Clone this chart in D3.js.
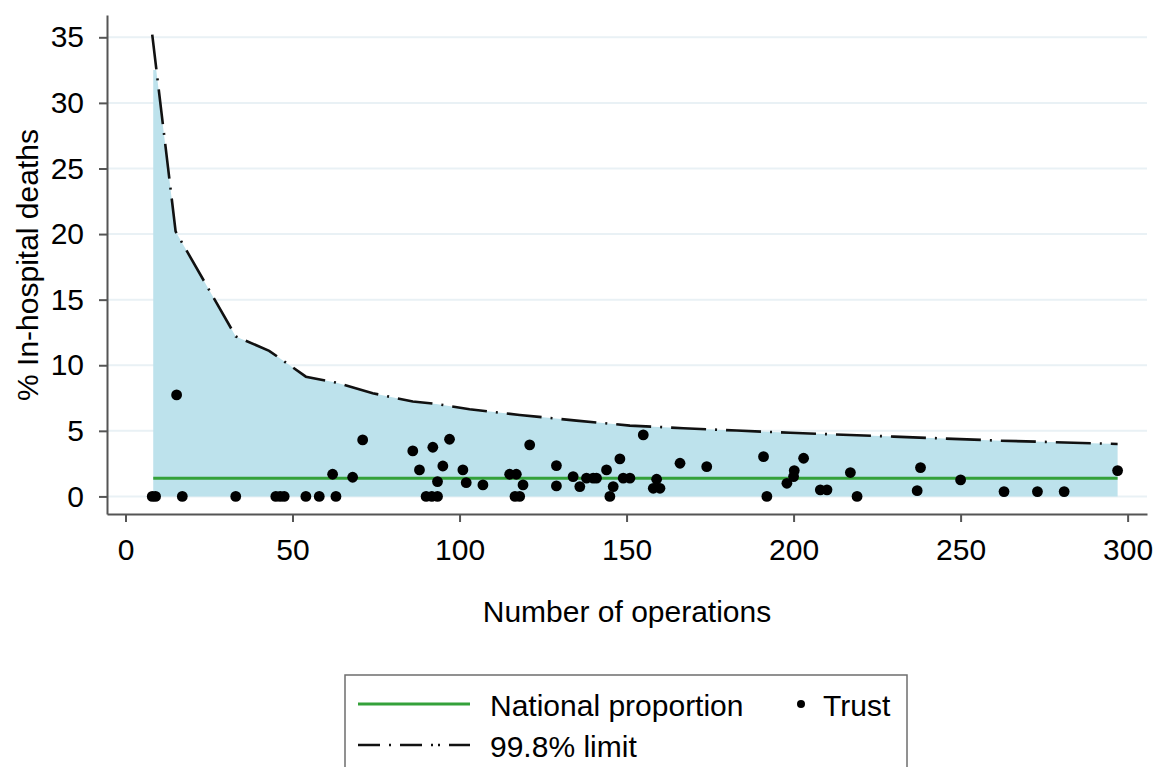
<!DOCTYPE html>
<html>
<head>
<meta charset="utf-8">
<script src="https://cdn.jsdelivr.net/npm/d3@7"></script>
<style>
  html, body { margin: 0; padding: 0; background: #fff; }
  svg { display: block; font-family: "Liberation Sans", Arial, sans-serif; }
</style>
</head>
<body>
<svg id="chart" width="1154" height="767"></svg>
<script>
// ---- Data ----
const trustN = [8, 9, 15.3, 17, 33, 45, 46.3, 47.5, 54, 58, 63, 62, 68, 71,
  86, 88, 92, 97, 95, 93.4, 90, 91.7, 93.4, 101, 102, 107, 115, 117, 119, 116.6, 118,
  121, 129, 129, 134, 136, 138, 140, 141, 144, 145, 146, 148, 149, 151, 155,
  159, 158, 160, 166, 174, 191, 192, 198, 200, 200.2, 203, 208, 210, 217, 219,
  237, 238, 250, 263, 273, 281, 297];
const trustPct = [0, 0, 7.74, 0, 0, 0, 0, 0, 0, 0, 0, 1.69, 1.46, 4.31,
  3.47, 2.02, 3.75, 4.36, 2.32, 1.13, 0, 0, 0, 2.02, 1.05, 0.88, 1.69, 1.69, 0.88, 0, 0,
  3.93, 2.35, 0.8, 1.51, 0.75, 1.39, 1.39, 1.39, 2.02, 0, 0.75, 2.86, 1.39, 1.39, 4.69,
  1.31, 0.62, 0.62, 2.53, 2.27, 3.03, 0, 1.0, 1.51, 1.97, 2.91, 0.5, 0.5, 1.82, 0,
  0.44, 2.2, 1.26, 0.37, 0.37, 0.37, 1.97];

const limitN   = [8, 15, 33, 43, 54, 63, 74, 86, 93, 103, 118, 135, 151, 167, 183, 199, 230, 262, 297];
const limitPct = [35.2, 20.2, 12.2, 11.1, 9.13, 8.68, 7.87, 7.23, 7.05, 6.65, 6.21, 5.78, 5.4, 5.2, 5.02, 4.85, 4.56, 4.25, 4.0];

// shaded band (upper edge of the filled region)
const bandN   = [8.3, 9.2, 15, 33, 43, 54, 63, 74, 86, 93, 103, 118, 135, 151, 167, 183, 199, 230, 262, 297];
const bandPct = [32.5, 32.5, 20.2, 12.2, 11.1, 9.13, 8.68, 7.87, 7.23, 7.05, 6.65, 6.21, 5.78, 5.4, 5.2, 5.02, 4.85, 4.56, 4.25, 4.0];

const nationalPct = 1.38;
const nationalRange = [8.3, 297];

const xTicks = [0, 50, 100, 150, 200, 250, 300];
const yTicks = [0, 5, 10, 15, 20, 25, 30, 35];

const xTitle = "Number of operations";
const yTitle = "% In-hospital deaths";
const legendLabels = ["National proportion", "Trust", "99.8% limit"];

// ---- Layout ----
const svg = d3.select("#chart");
const W = 1154, H = 767;
const plot = { left: 107, right: 1147, top: 15, bottom: 514 };
const FS = 30;

const x = d3.scaleLinear().domain([-5.54, 305.8]).range([plot.left, plot.right]);
const y = d3.scaleLinear().domain([-1.34, 36.7]).range([plot.bottom, plot.top]);

svg.append("rect").attr("width", W).attr("height", H).attr("fill", "#fff");

// gridlines
svg.append("g").selectAll("line").data(yTicks).join("line")
  .attr("x1", plot.left).attr("x2", plot.right)
  .attr("y1", d => y(d)).attr("y2", d => y(d))
  .attr("stroke", "#e9f1f5").attr("stroke-width", 2);

// band fill
const band = bandN.map((n, i) => [n, bandPct[i]]);
svg.append("path").datum(band)
  .attr("d", d3.area().x(d => x(d[0])).y0(y(0)).y1(d => y(d[1])))
  .attr("fill", "#bde2ec");

// national line
svg.append("line")
  .attr("x1", x(nationalRange[0])).attr("x2", x(nationalRange[1]))
  .attr("y1", y(nationalPct)).attr("y2", y(nationalPct))
  .attr("stroke", "#34a13a").attr("stroke-width", 3);

// limit line
const limit = limitN.map((n, i) => [n, limitPct[i]]);
svg.append("path").datum(limit)
  .attr("d", d3.line().x(d => x(d[0])).y(d => y(d[1])))
  .attr("fill", "none").attr("stroke", "#111").attr("stroke-width", 2.6)
  .attr("stroke-dasharray", "35 9 2 9");

// trust points
svg.append("g").selectAll("circle").data(trustN.map((n, i) => [n, trustPct[i]])).join("circle")
  .attr("cx", d => x(d[0])).attr("cy", d => y(d[1])).attr("r", 5.4)
  .attr("fill", "#000");

// axes
const axisColor = "#555";
const gx = svg.append("g").attr("transform", `translate(0,${plot.bottom})`)
  .call(d3.axisBottom(x).tickValues(xTicks).tickSize(8).tickSizeOuter(0).tickPadding(17));
const gy = svg.append("g").attr("transform", `translate(${plot.left},0)`)
  .call(d3.axisLeft(y).tickValues(yTicks).tickSize(8).tickSizeOuter(0).tickPadding(15));
[gx, gy].forEach(g => {
  g.select(".domain").attr("stroke", axisColor).attr("stroke-width", 2);
  g.selectAll(".tick line").attr("stroke", axisColor).attr("stroke-width", 2);
  g.selectAll(".tick text").attr("fill", "#000").attr("font-size", FS)
    .attr("font-family", '"Liberation Sans", Arial, sans-serif');
});

// axis titles
svg.append("text").attr("x", 627).attr("y", 622).attr("text-anchor", "middle")
  .attr("font-size", FS).attr("fill", "#000").text(xTitle);
svg.append("text").attr("transform", "translate(38,265) rotate(-90)")
  .attr("text-anchor", "middle").attr("font-size", FS).attr("fill", "#000").text(yTitle);

// legend
const lg = svg.append("g");
lg.append("rect").attr("x", 345).attr("y", 675).attr("width", 562).attr("height", 120)
  .attr("fill", "#fff").attr("stroke", "#6e6e6e").attr("stroke-width", 1.5);
lg.append("line").attr("x1", 358).attr("x2", 470).attr("y1", 704).attr("y2", 704)
  .attr("stroke", "#34a13a").attr("stroke-width", 3);
lg.append("text").attr("x", 490).attr("y", 716).attr("font-size", FS).attr("fill", "#000").text(legendLabels[0]);
lg.append("circle").attr("cx", 801).attr("cy", 704).attr("r", 4).attr("fill", "#000");
lg.append("text").attr("x", 823).attr("y", 716).attr("font-size", FS).attr("fill", "#000").text(legendLabels[1]);
lg.append("line").attr("x1", 358).attr("x2", 470).attr("y1", 745).attr("y2", 745)
  .attr("stroke", "#111").attr("stroke-width", 2.6).attr("stroke-dasharray", "22 9 2 9 22 9 2 5 2 9");
lg.append("text").attr("x", 490).attr("y", 757).attr("font-size", FS).attr("fill", "#000").text(legendLabels[2]);
</script>
</body>
</html>
